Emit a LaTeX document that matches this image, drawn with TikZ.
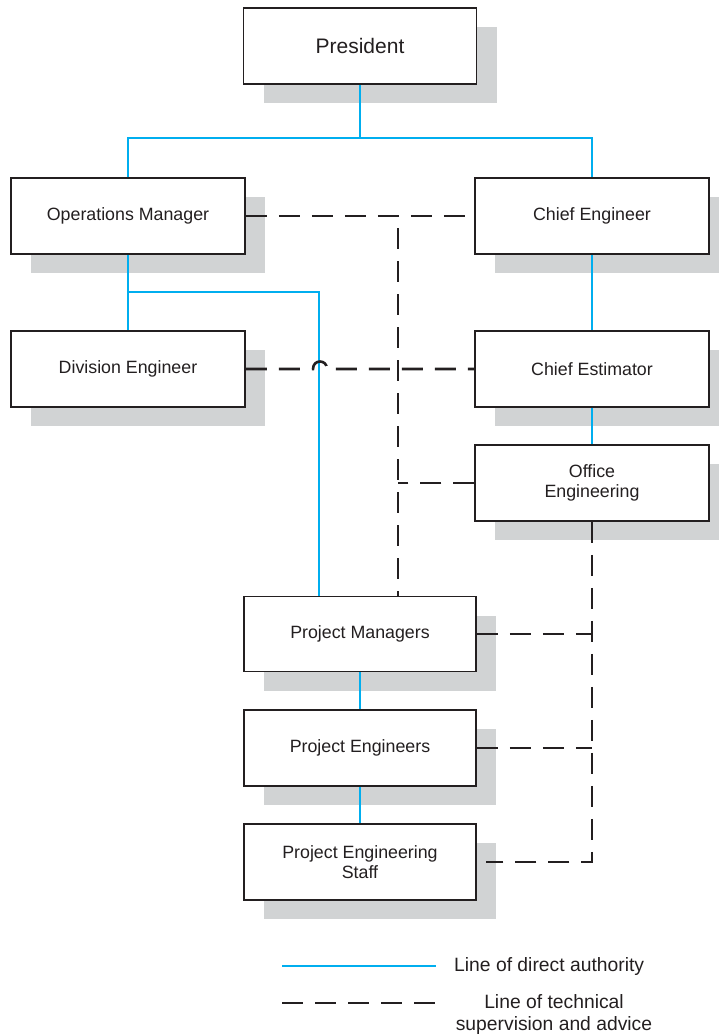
\documentclass[tikz,border=0pt]{standalone}
\usepackage{fontspec}
\setmainfont{Liberation Sans}
\usetikzlibrary{shadows}
\definecolor{authblue}{RGB}{0,174,239}
\definecolor{shadowgrey}{RGB}{209,211,212}
\definecolor{ink}{RGB}{35,31,32}
\begin{document}
\begin{tikzpicture}[x=1pt,y=-1pt,
  orgbox/.style={draw=ink, line width=1.5pt, fill=white,
    minimum width=234pt, minimum height=76pt, inner sep=0pt,
    align=center, text=ink, font=\fontsize{17.8}{20.5}\selectfont,
    drop shadow={shadow xshift=20pt, shadow yshift=-19pt, opacity=1, fill=shadowgrey}},
  auth/.style={draw=authblue, line width=2pt},
  tech/.style={draw=ink, line width=2.6pt, dash pattern=on 21pt off 12pt},
  legendtext/.style={text=ink, align=center, inner sep=0pt, font=\fontsize{19.3}{22}\selectfont}]
\useasboundingbox (0,0) rectangle (718,1036);

% boxes
\node[orgbox, minimum width=233pt, font=\fontsize{21}{24}\selectfont] (pres) at (360,46) {President};
\node[orgbox] (ops) at (128,216) {Operations Manager};
\node[orgbox] (chief) at (592,216) {Chief Engineer};
\node[orgbox] (div) at (128,369) {Division Engineer};
\node[orgbox] (est) at (592,369) {Chief Estimator};
\node[orgbox] (office) at (592,483) {Office\\Engineering};
\node[orgbox, minimum width=232pt, minimum height=75pt] (pm) at (360,634) {Project Managers};
\node[orgbox, minimum width=232pt] (pe) at (360,748) {Project Engineers};
\node[orgbox, minimum width=232pt] (pes) at (360,862) {Project Engineering\\Staff};

% direct authority
\coordinate (topbus) at (360,138);
\coordinate (sidebus) at (128,292);
\draw[auth] (pres.south) -- (topbus);
\draw[auth] (ops.north) |- (topbus) -| (chief.north);
\draw[auth] (ops.south) -- (div.north);
\draw[auth] (sidebus) -| ([xshift=76pt]pm.north west);
\draw[auth] (chief.south) -- (est.north);
\draw[auth] (est.south) -- (office.north);
\draw[auth] (pm.south) -- (pe.north);
\draw[auth] (pe.south) -- (pes.north);

% technical supervision
\coordinate (hop) at (320,369);
\coordinate (techtop) at (398,216);
\draw[tech] (ops.east) -- (chief.west);
\draw[tech] (div.east) -- ([xshift=-7pt]hop)
  .. controls ([xshift=-7pt,yshift=10pt]hop) and ([xshift=7pt,yshift=10pt]hop) .. ([xshift=7pt]hop)
  -- (est.west);
\draw[tech, dash phase=21pt] (techtop) -- (techtop |- pm.north);
\draw[tech] (office.west) -- (office.west -| techtop);
\draw[tech] (office.south) |- ([xshift=9pt]pes.east);
\draw[tech] (pm.east) -- (pm.east -| office.south);
\draw[tech] (pe.east) -- (pe.east -| office.south);

% legend
\coordinate (la) at (282,966);
\coordinate (lb) at (436,966);
\coordinate (lc) at (282,1003);
\coordinate (ld) at (440,1003);
\draw[auth] (la) -- (lb);
\draw[tech] (lc) -- (ld);
\node[legendtext, anchor=west] (legauth) at (454,966) {Line of direct authority};
\node[legendtext] (legtech) at (554,1014) {Line of technical\\supervision and advice};
\end{tikzpicture}
\end{document}
